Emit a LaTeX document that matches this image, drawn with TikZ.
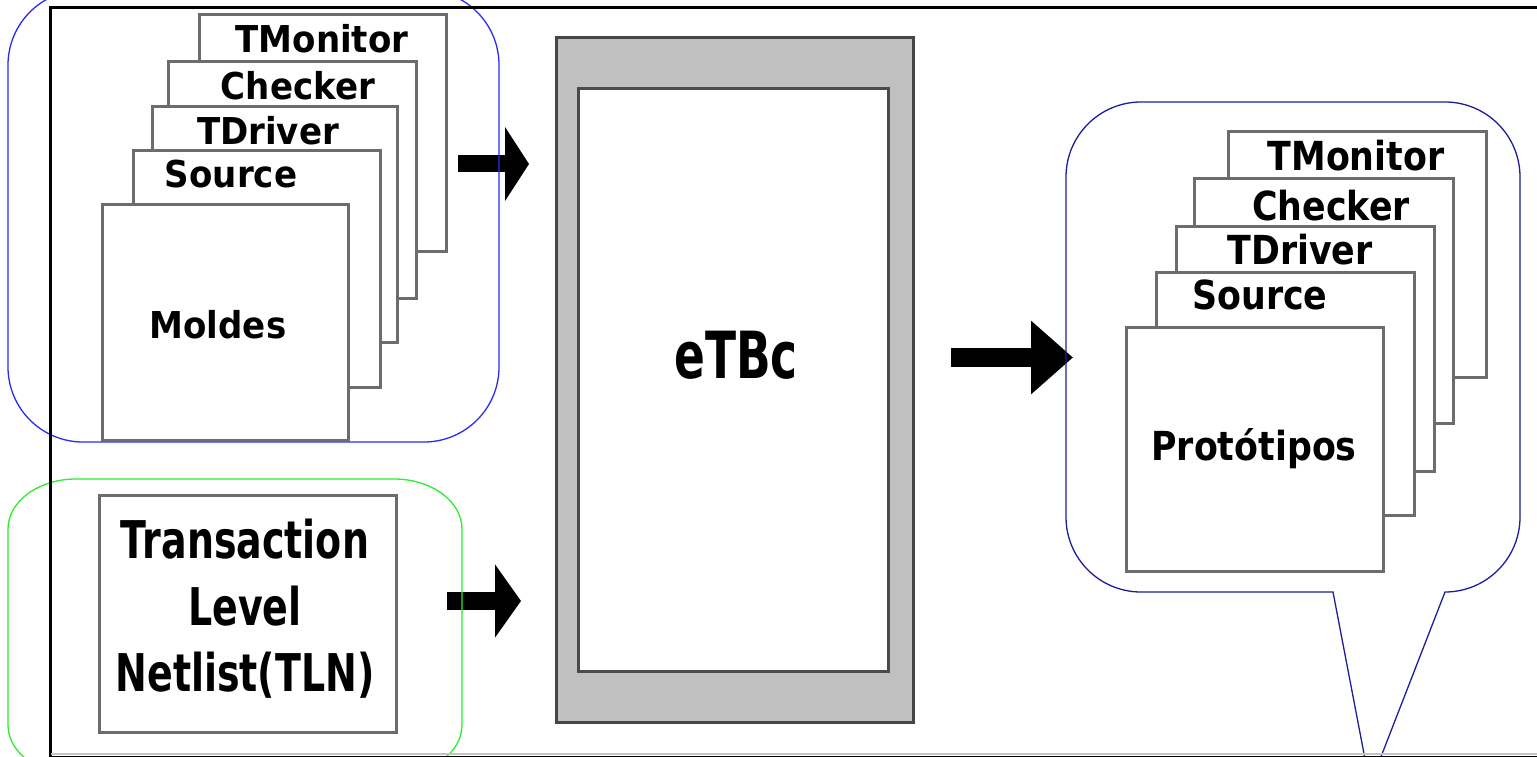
\documentclass[tikz,border=0pt]{standalone}
\usepackage{fontspec}
\setmainfont{DejaVu Sans}
\usepackage{graphicx}
\usetikzlibrary{arrows.meta}

\definecolor{edgegray}{HTML}{6C6C6C}
\definecolor{darkedge}{HTML}{454545}
\definecolor{panelgray}{HTML}{C0C0C0}
\definecolor{groupblue}{HTML}{2A2AF5}
\definecolor{calloutblue}{HTML}{1E1E9A}
\definecolor{groupgreen}{HTML}{2CEE2C}
\definecolor{baseband}{HTML}{C4C4C4}

% horizontally narrowed label text
\newcommand{\hsqueeze}[2]{\scalebox{#1}[1]{#2}}

\tikzset{
  stackbox/.style={draw=edgegray, line width=3pt, fill=white, inner sep=0pt, rectangle},
  lefttxt/.style={anchor=base, inner sep=0pt, font=\bfseries\fontsize{37}{44}\selectfont},
  righttxt/.style={anchor=base, inner sep=0pt, font=\bfseries\fontsize{40}{48}\selectfont},
  blockarrow/.style={line width=#1, draw=black},
  grouppath/.style={line width=1.3pt},
}

\begin{document}
\begin{tikzpicture}[x=1pt, y=-1pt]
\useasboundingbox (0,0) rectangle (1537,757);
\clip (0,0) rectangle (1537,757);
\fill[white] (0,0) rectangle (1537,757);

% ---------- tool core ----------
\node[draw=darkedge, line width=3pt, fill=panelgray, inner sep=0pt,
      minimum width=357pt, minimum height=684pt] (etbc) at (734.5,380) {};
\node[draw=darkedge!90!gray, line width=3pt, fill=white, inner sep=0pt,
      minimum width=310pt, minimum height=582pt] (etbcin) at (733,380) {};
\node[anchor=base, inner sep=0pt, font=\bfseries\fontsize{65}{78}\selectfont]
      (etbc-label) at (736,378) {\hsqueeze{0.70}{eTBc}};

% ---------- arrows ----------
\coordinate (tmpl-out) at (458,164);
\coordinate (etbc-in1) at (529,164);
\coordinate (tln-out)  at (447,601);
\coordinate (etbc-in2) at (521,601);
\coordinate (etbc-out) at (951,357.5);
\coordinate (proto-in) at (1073,357.5);
\draw[blockarrow=17pt, -{Triangle[length=24pt,width=73pt]}] (tmpl-out) -- (etbc-in1);
\draw[blockarrow=18pt, -{Triangle[length=26pt,width=72pt]}] (tln-out) -- (etbc-in2);
\draw[blockarrow=19pt, -{Triangle[length=42pt,width=71pt]}] (etbc-out) -- (proto-in);

% ---------- group outlines ----------
\draw[grouppath, draw=groupblue, rounded corners=75pt] (8,-10) rectangle (499,442);

\draw[grouppath, draw=groupgreen]
  (76,479) -- (394,479)
  arc[start angle=270, end angle=360, x radius=68, y radius=50]
  -- (462,725)
  arc[start angle=0, end angle=90, x radius=68, y radius=50]
  -- (76,775)
  arc[start angle=90, end angle=180, x radius=68, y radius=50]
  -- (8,529)
  arc[start angle=180, end angle=270, x radius=68, y radius=50] -- cycle;

\draw[grouppath, draw=calloutblue]
  (1141,102) -- (1445,102)
  arc[start angle=270, end angle=360, radius=75]
  -- (1520,517)
  arc[start angle=0, end angle=90, radius=75]
  -- (1370,785) -- (1333,592) -- (1141,592)
  arc[start angle=90, end angle=180, radius=75]
  -- (1066,177)
  arc[start angle=180, end angle=270, radius=75] -- cycle;

% ---------- template stack ----------
\node[stackbox, minimum width=247pt, minimum height=236pt] (l-mon) at (322.5,133) {};
\node[stackbox, minimum width=248pt, minimum height=236pt] (l-chk) at (292,180) {};
\node[stackbox, minimum width=245pt, minimum height=235pt] (l-drv) at (274.5,224.5) {};
\node[stackbox, minimum width=247pt, minimum height=236pt] (l-src) at (256.5,269) {};
\node[stackbox, minimum width=246pt, minimum height=236pt] (l-mold) at (225,322) {};
\node[lefttxt] (l-mon-t)  at (322,53)  {\hsqueeze{0.92}{TMonitor}};
\node[lefttxt] (l-chk-t)  at (298,100) {\hsqueeze{0.92}{Checker}};
\node[lefttxt] (l-drv-t)  at (268,145) {\hsqueeze{0.92}{TDriver}};
\node[lefttxt] (l-src-t)  at (231,187) {\hsqueeze{0.92}{Source}};
\node[lefttxt] (l-mold-t) at (218,338) {\hsqueeze{0.92}{Moldes}};

% ---------- netlist input ----------
\node[stackbox, minimum width=297pt, minimum height=237pt] (tln) at (247.5,613.5) {};
\node[inner sep=0pt, font=\bfseries\fontsize{52}{66.5}\selectfont] (tln-t) at (245,611.7)
  {\hsqueeze{0.73}{\begin{tabular}{@{}c@{}}Transaction\\Level\\Netlist(TLN)\end{tabular}}};

% ---------- prototype stack ----------
\node[stackbox, minimum width=258pt, minimum height=245pt] (r-mon) at (1357,254.5) {};
\node[stackbox, minimum width=259pt, minimum height=245pt] (r-chk) at (1323.5,300.5) {};
\node[stackbox, minimum width=258pt, minimum height=245pt] (r-drv) at (1305,348.5) {};
\node[stackbox, minimum width=258pt, minimum height=243pt] (r-src) at (1285,393.5) {};
\node[stackbox, minimum width=257pt, minimum height=244pt] (r-proto) at (1254.5,449) {};
\node[righttxt] (r-mon-t)   at (1356,171) {\hsqueeze{0.87}{TMonitor}};
\node[righttxt] (r-chk-t)   at (1331,220) {\hsqueeze{0.87}{Checker}};
\node[righttxt] (r-drv-t)   at (1300,264) {\hsqueeze{0.87}{TDriver}};
\node[righttxt] (r-src-t)   at (1260,309) {\hsqueeze{0.87}{Source}};
\node[righttxt] (r-proto-t) at (1254,460) {\hsqueeze{0.87}{Protótipos}};

% ---------- page frame ----------
\draw[line width=3pt, black] (50.5,760) -- (50.5,7.5) -- (1545,7.5);
\draw[line width=2pt, baseband] (50.5,754) -- (1545,754);
\draw[line width=2pt, black] (50.5,756.5) -- (1545,756.5);
\end{tikzpicture}
\end{document}
